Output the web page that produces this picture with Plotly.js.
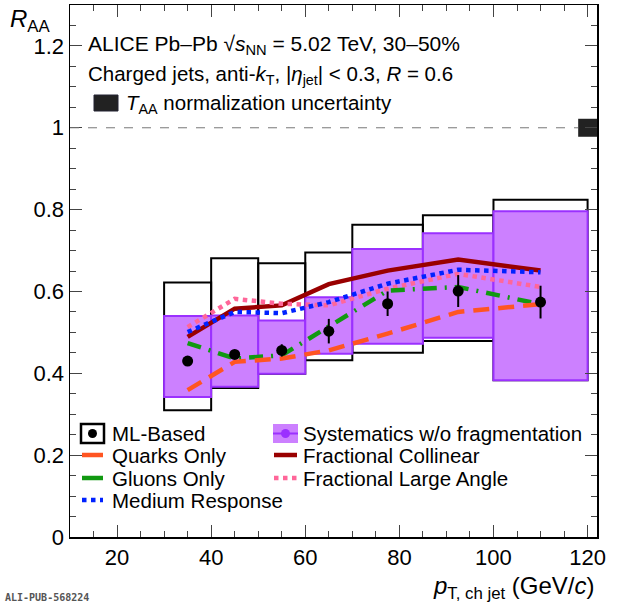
<!DOCTYPE html>
<html><head><meta charset="utf-8">
<script src="https://cdn.plot.ly/plotly-3.0.1.min.js"></script>
<style>body{margin:0}#c{width:620px;height:605px}</style>
</head><body><div id="c"></div>
<script>
const binLo = [30,40,50,60,70,85,100];
const binHi = [40,50,60,70,85,100,120];
const ptCenter = [35,45,55,65,77.5,92.5,110];
const raa = [0.430,0.446,0.456,0.503,0.570,0.601,0.574];
const raaStat = [0.006,0.01,0.015,0.03,0.03,0.039,0.04];
const totLo = [0.310,0.364,0.399,0.432,0.450,0.479,0.383];
const totHi = [0.622,0.681,0.669,0.695,0.763,0.786,0.824];
const sysLo = [0.342,0.367,0.399,0.448,0.472,0.487,0.383];
const sysHi = [0.540,0.541,0.529,0.586,0.704,0.742,0.796];
const quarks = [0.359,0.428,0.436,0.456,0.497,0.550,0.569];
const gluons = [0.474,0.436,0.444,0.513,0.602,0.611,0.569];
const medium = [0.501,0.550,0.547,0.574,0.619,0.653,0.647];
const collinear = [0.489,0.558,0.566,0.618,0.651,0.678,0.651];
const largeAngle = [0.513,0.582,0.570,0.566,0.607,0.643,0.611];
const taaUnc = 0.022;

const F = "Liberation Sans, Arial, sans-serif";
const widths = binLo.map((l,i)=>binHi[i]-l);
const mids = binLo.map((l,i)=>(l+binHi[i])/2);
const S = {coll:{color:'#990000', width:4.5}, large:{color:'#ff6699', width:4.5, dash:'dot'},
  med:{color:'#0022ff', width:4.5, dash:'dot'}, glu:{color:'#119911', width:4.5, dash:'14px,8px,2px,8px'},
  qua:{color:'#ff5522', width:4.5, dash:'16px,9px'}};

const traces = [
 {type:'bar', x:mids, base:totLo, y:totHi.map((h,i)=>h-totLo[i]), width:widths,
  marker:{color:'rgba(0,0,0,0)', line:{color:'black', width:2}}},
 {type:'bar', x:mids, base:sysLo, y:sysHi.map((h,i)=>h-sysLo[i]), width:widths,
  marker:{color:'#cc80ff', line:{color:'#9b30ff', width:2}}},
 {type:'scatter', mode:'lines', x:ptCenter, y:collinear, line:S.coll},
 {type:'scatter', mode:'lines', x:ptCenter, y:largeAngle, line:S.large},
 {type:'scatter', mode:'lines', x:ptCenter, y:medium, line:S.med},
 {type:'scatter', mode:'lines', x:ptCenter, y:gluons, line:S.glu},
 {type:'scatter', mode:'lines', x:ptCenter, y:quarks, line:S.qua},
 {type:'scatter', mode:'markers', x:ptCenter, y:raa, marker:{color:'black', size:11},
  error_y:{type:'data', array:raaStat, color:'black', thickness:2, width:0}},
 {type:'bar', x:[120], base:[1-taaUnc], y:[2*taaUnc], width:[4], marker:{color:'#222', line:{width:0}}}
];

const PX = p => (p-70)/527, PY = p => (537-p)/532;
const shapes = [{type:'line', xref:'x', yref:'y', x0:10, x1:118, y0:1, y1:1, line:{color:'#777', width:1, dash:'dash'}},
 {type:'rect', xref:'paper', yref:'paper', x0:PX(94), x1:PX(118), y0:PY(111), y1:PY(95), fillcolor:'#222', line:{color:'#223', width:1}},
 {type:'rect', xref:'paper', yref:'paper', x0:PX(81), x1:PX(104), y0:PY(443), y1:PY(424), fillcolor:'white', line:{color:'black', width:2.5}},
 {type:'circle', xref:'paper', yref:'paper', x0:PX(88), x1:PX(97), y0:PY(438), y1:PY(429), fillcolor:'black', line:{width:0}},
 {type:'rect', xref:'paper', yref:'paper', x0:PX(273), x1:PX(298), y0:PY(443), y1:PY(424), fillcolor:'#cc80ff', line:{width:0}},
 {type:'line', xref:'paper', yref:'paper', x0:PX(273), x1:PX(298), y0:PY(433.5), y1:PY(433.5), line:{color:'#9b30ff', width:2}},
 {type:'circle', xref:'paper', yref:'paper', x0:PX(281), x1:PX(290), y0:PY(438), y1:PY(429), fillcolor:'#9b30ff', line:{width:0}}
];
const rowsL = [['Quarks Only',S.qua,455],['Gluons Only',S.glu,478],['Medium Response',S.med,500]];
const rowsR = [['Fractional Collinear',S.coll,455],['Fractional Large Angle',S.large,478]];
const ann = [];
function legText(t, x, y){ ann.push({xref:'paper', yref:'paper', x:PX(x), y:PY(y), xanchor:'left', yanchor:'middle', showarrow:false, font:{size:20.5}, text:t}); }
rowsL.forEach(r=>{shapes.push({type:'line', xref:'paper', yref:'paper', x0:PX(82), x1:PX(103), y0:PY(r[2]), y1:PY(r[2]), line:{color:r[1].color, width:4.5, dash:r[1].dash==='dot'?'dot':'solid'}}); legText(r[0],110,r[2]);});
rowsR.forEach(r=>{shapes.push({type:'line', xref:'paper', yref:'paper', x0:PX(274), x1:PX(297), y0:PY(r[2]), y1:PY(r[2]), line:{color:r[1].color, width:4.5, dash:r[1].dash==='dot'?'dot':'solid'}}); legText(r[0],301,r[2]);});
legText('ML-Based',110,433); legText('Systematics w/o fragmentation',301,433);

ann.push(
  {xref:'paper', yref:'paper', x:PX(86), y:PY(45), xanchor:'left', yanchor:'middle', showarrow:false, font:{size:21},
   text:'ALICE Pb–Pb √<i>s</i><sub>NN</sub> = 5.02 TeV, 30–50%'},
  {xref:'paper', yref:'paper', x:PX(86), y:PY(75), xanchor:'left', yanchor:'middle', showarrow:false, font:{size:20.5},
   text:'Charged jets, anti-<i>k</i><sub>T</sub>, |<i>η</i><sub>jet</sub>| < 0.3, <i>R</i> = 0.6'},
  {xref:'paper', yref:'paper', x:PX(124), y:PY(104), xanchor:'left', yanchor:'middle', showarrow:false, font:{size:20.5},
   text:'<i>T</i><sub>AA</sub> normalization uncertainty'},
  {xref:'paper', yref:'paper', x:PX(8), y:PY(3), xanchor:'left', yanchor:'top', showarrow:false, font:{size:24},
   text:'<i>R</i><sub>AA</sub>'},
  {xref:'paper', yref:'paper', x:1, y:PY(570), xanchor:'right', yanchor:'top', showarrow:false, font:{size:24},
   text:'<i>p</i><sub>T, ch jet</sub> (GeV/<i>c</i>)'},
  {xref:'paper', yref:'paper', x:PX(3), y:PY(597), xanchor:'left', yanchor:'middle', showarrow:false,
   font:{size:10, family:'DejaVu Sans Mono, monospace', color:'#555'}, text:'<b>ALI-PUB-568224</b>'}
);

const layout = {
 width:620, height:605, margin:{l:70,r:23,t:5,b:68}, showlegend:false,
 paper_bgcolor:'white', plot_bgcolor:'white', barmode:'overlay',
 font:{family:F, size:22, color:'black'},
 xaxis:{range:[10,122], tickvals:[20,40,60,80,100,120], ticks:'inside', ticklen:12, tickwidth:1,
   mirror:'ticks', showline:true, linecolor:'black', linewidth:1.5, showgrid:false, zeroline:false,
   minor:{dtick:5, tick0:0, ticks:'inside', ticklen:6}, tickfont:{size:22}},
 yaxis:{range:[0,1.3], tickvals:[0,0.2,0.4,0.6,0.8,1,1.2], ticktext:['0','0.2','0.4','0.6','0.8','1','1.2'],
   ticks:'inside', ticklen:12, mirror:'ticks', showline:true, linecolor:'black', linewidth:1.5,
   showgrid:false, zeroline:false, minor:{dtick:0.05, ticks:'inside', ticklen:6}, tickfont:{size:22}},
 shapes:shapes, annotations:ann
};
Plotly.newPlot('c', traces, layout, {staticPlot:true});
</script></body></html>
